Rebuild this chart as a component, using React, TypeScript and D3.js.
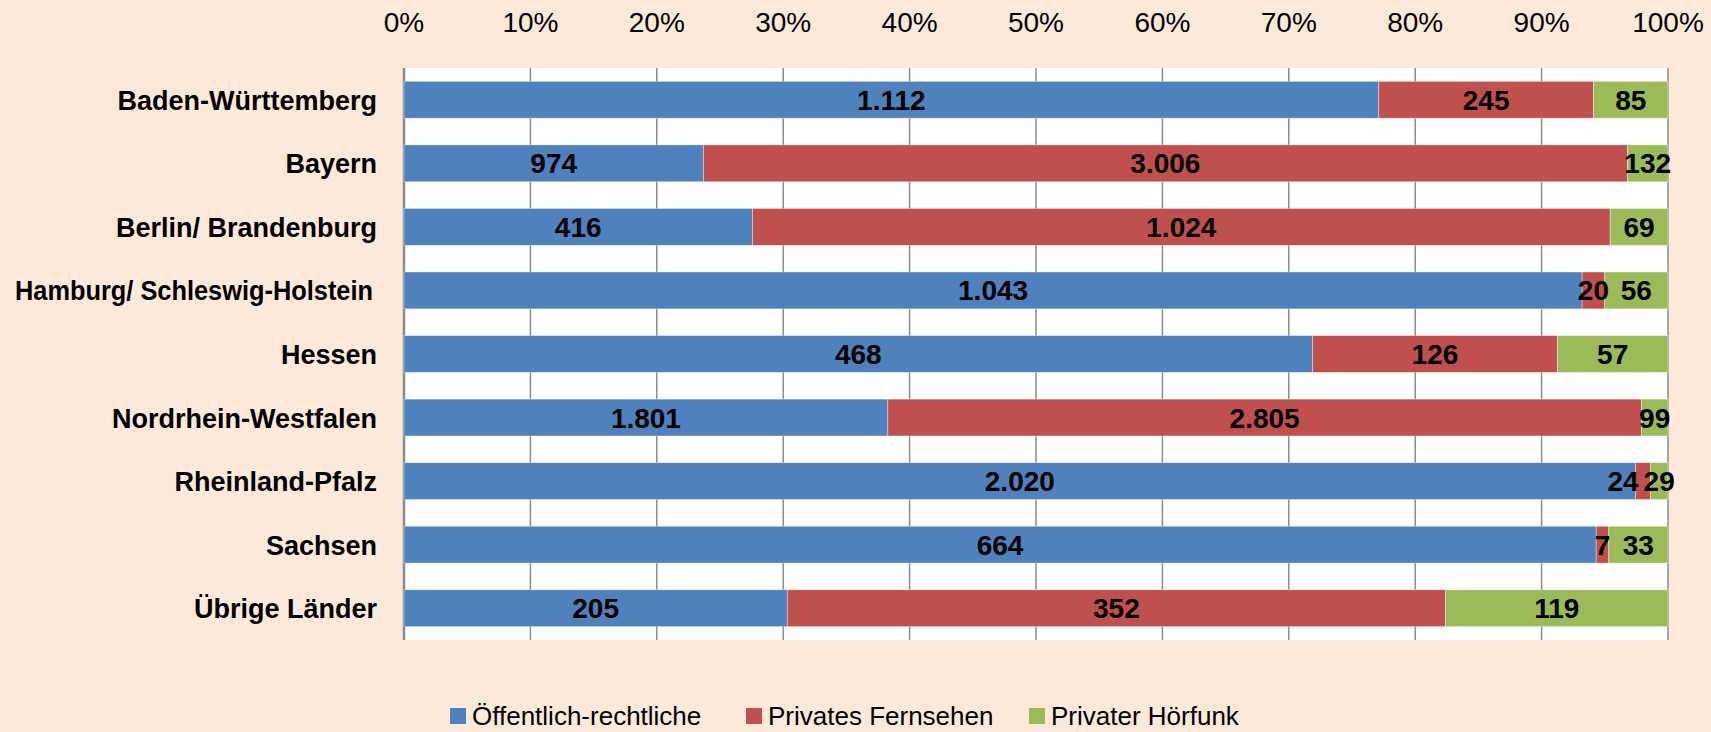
import React from 'react'
import * as d3 from 'd3'

const regions = [
  'Baden-Württemberg',
  'Bayern',
  'Berlin/ Brandenburg',
  'Hamburg/ Schleswig-Holstein',
  'Hessen',
  'Nordrhein-Westfalen',
  'Rheinland-Pfalz',
  'Sachsen',
  'Übrige Länder',
]
const seriesNames = ['Öffentlich-rechtliche', 'Privates Fernsehen', 'Privater Hörfunk']
const oeffentlich = [1112, 974, 416, 1043, 468, 1801, 2020, 664, 205]
const privatTv = [245, 3006, 1024, 20, 126, 2805, 24, 7, 352]
const privatRadio = [85, 132, 69, 56, 57, 99, 29, 33, 119]
const tickValues = [0, 0.1, 0.2, 0.3, 0.4, 0.5, 0.6, 0.7, 0.8, 0.9, 1]

const colors = ['#4F81BD', '#C0504D', '#9BBB59']
const W = 1711
const H = 732
const margin = { top: 68, right: 43, bottom: 92, left: 404 }
const font = "'Liberation Sans', Arial, sans-serif"

// label of the small red RP segment sits left of its segment in the original
const labelNudge: Record<string, number> = { 'Rheinland-Pfalz|1': -20 }

const fmt = (v: number) => d3.format(',')(v).replace(/,/g, '.')

export default function App() {
  const rows = regions.map((r, i) => ({
    region: r,
    values: [oeffentlich[i], privatTv[i], privatRadio[i]],
  }))

  const x = d3.scaleLinear().domain([0, 1]).range([margin.left, W - margin.right])
  const y = d3
    .scaleBand()
    .domain(regions)
    .range([margin.top, H - margin.bottom])
    .paddingInner(0.42)
    .paddingOuter(0.21)

  const stack = d3
    .stack<any>()
    .keys(['0', '1', '2'])
    .offset(d3.stackOffsetExpand)(rows.map((r) => ({ region: r.region, 0: r.values[0], 1: r.values[1], 2: r.values[2] })))

  const legendX = [450, 746, 1029]

  return (
    <svg
      width={W}
      height={H}
      style={{ position: 'absolute', left: 0, top: 0, display: 'block' }}
      fontFamily={font}
    >
      <rect x={0} y={0} width={W} height={H} fill="#FDE9D9" />
      <rect
        x={x(0)}
        y={margin.top}
        width={x(1) - x(0)}
        height={H - margin.bottom - margin.top}
        fill="#FFFFFF"
      />
      {tickValues.map((t) => (
        <g key={t}>
          <line
            x1={x(t)}
            x2={x(t)}
            y1={margin.top}
            y2={H - margin.bottom}
            stroke="#8C8C8C"
            strokeWidth={t === 0 ? 2.5 : 1.5}
          />
          <text x={x(t)} y={32} textAnchor="middle" fontSize={28} fill="#000">
            {d3.format('.0%')(t)}
          </text>
        </g>
      ))}
      {stack.map((layer, si) =>
        layer.map((seg: any, ri: number) => {
          const region = regions[ri]
          const x0 = x(seg[0])
          const x1 = x(seg[1])
          const yy = y(region)!
          return (
            <rect
              key={`${si}-${ri}`}
              x={x0}
              y={yy}
              width={x1 - x0}
              height={y.bandwidth()}
              fill={colors[si]}
              stroke="#FFFFFF"
              strokeOpacity={0.5}
              strokeWidth={0.75}
            />
          )
        })
      )}
      {stack.map((layer, si) =>
        layer.map((seg: any, ri: number) => {
          const region = regions[ri]
          const cx = (x(seg[0]) + x(seg[1])) / 2 + (labelNudge[`${region}|${si}`] || 0)
          return (
            <text
              key={`l${si}-${ri}`}
              x={cx}
              y={y(region)! + y.bandwidth() / 2 + 10}
              textAnchor="middle"
              fontSize={28}
              fontWeight="bold"
              fill="#000"
            >
              {fmt(rows[ri].values[si])}
            </text>
          )
        })
      )}
      {regions.map((r) => {
        // the long label is squeezed in the original so it fits the margin
        const long = r.length > 20
        return (
          <text
            key={r}
            x={long ? 373 : 377}
            y={y(r)! + y.bandwidth() / 2 + 10}
            textAnchor="end"
            fontSize={27}
            fontWeight="bold"
            fill="#000"
            textLength={long ? 358 : undefined}
            lengthAdjust={long ? 'spacingAndGlyphs' : undefined}
          >
            {r}
          </text>
        )
      })}
      {seriesNames.map((name, i) => (
        <g key={name}>
          <rect x={legendX[i]} y={708} width={16} height={16} fill={colors[i]} />
          <text x={legendX[i] + 22} y={725} fontSize={26} fill="#000">
            {name}
          </text>
        </g>
      ))}
    </svg>
  )
}
